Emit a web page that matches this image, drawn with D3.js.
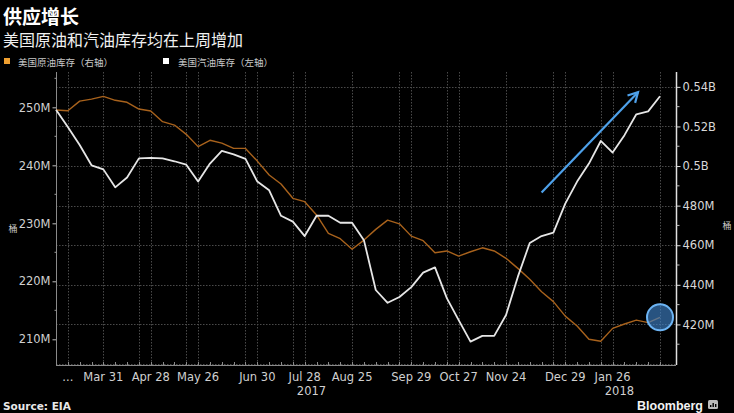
<!DOCTYPE html>
<html><head><meta charset="utf-8">
<script src="https://cdn.jsdelivr.net/npm/d3@7"></script>
<style>
html,body{margin:0;padding:0;background:#000;}
svg{display:block;}
</style></head>
<body>
<svg id="c" width="734" height="413"></svg>
<script>
// ---------- data ----------
const dates = [
 "2017-03-03","2017-03-10","2017-03-17","2017-03-24","2017-03-31",
 "2017-04-07","2017-04-14","2017-04-21","2017-04-28",
 "2017-05-05","2017-05-12","2017-05-19","2017-05-26",
 "2017-06-02","2017-06-09","2017-06-16","2017-06-23","2017-06-30",
 "2017-07-07","2017-07-14","2017-07-21","2017-07-28",
 "2017-08-04","2017-08-11","2017-08-18","2017-08-25",
 "2017-09-01","2017-09-08","2017-09-15","2017-09-22","2017-09-29",
 "2017-10-06","2017-10-13","2017-10-20","2017-10-27",
 "2017-11-03","2017-11-10","2017-11-17","2017-11-24",
 "2017-12-01","2017-12-08","2017-12-15","2017-12-22","2017-12-29",
 "2018-01-05","2018-01-12","2018-01-19","2018-01-26",
 "2018-02-02","2018-02-09","2018-02-16","2018-02-23"];
// US gasoline inventories, million barrels (left axis)
const gasoline = [249.6,246.6,243.5,240.0,239.3,236.2,237.9,241.2,241.3,241.2,
 240.7,240.1,237.2,240.3,242.5,241.9,241.1,237.2,235.7,231.3,
 230.3,227.8,231.3,231.3,230.1,230.1,227.1,218.5,216.3,217.3,
 219.0,221.5,222.4,217.1,213.3,209.6,210.6,210.6,214.2,220.8,
 226.6,227.8,228.4,233.4,237.2,240.3,244.2,242.2,245.2,248.8,
 249.3,251.9];
// US crude inventories, million barrels (right axis)
const crude = [528.3,527.9,532.8,533.8,535.2,533.2,532.2,528.8,527.8,522.4,
 520.7,516.0,509.8,513.0,511.6,508.9,508.9,502.5,495.5,490.9,
 483.7,482.0,475.3,466.0,463.3,458.0,462.6,468.0,472.7,470.8,
 464.6,462.3,456.2,457.1,454.5,456.7,458.7,457.1,453.4,448.3,
 442.8,436.5,431.5,424.2,419.2,412.5,411.5,418.0,420.2,422.2,
 420.9,423.6];
const xTickDates = ["2017-03-10","2017-03-31","2017-04-28","2017-05-26","2017-06-30","2017-07-28",
 "2017-08-25","2017-09-29","2017-10-27","2017-11-24","2017-12-29","2018-01-26"];
const xTickLabels = ["...","Mar 31","Apr 28","May 26","Jun 30","Jul 28",
 "Aug 25","Sep 29","Oct 27","Nov 24","Dec 29","Jan 26"];
const xGridDates = ["2017-03-10","2017-03-31","2017-04-21","2017-04-28","2017-05-19","2017-05-26",
 "2017-06-23","2017-06-30","2017-07-21","2017-07-28","2017-08-25","2017-09-22","2017-09-29",
 "2017-10-20","2017-10-27","2017-11-24","2017-12-22","2017-12-29","2018-01-19","2018-01-26","2018-02-23"];
const yearLabels = ["2017","2018"];
const yearLabelDates = ["2017-08-01","2018-01-30"];
const leftTicks = [210,220,230,240,250];
const leftMinor = [215,225,235,245,255];
const rightTicks = [420,440,460,480,500,520,540];
const rightMinor = [410,430,450,470,490,510,530];
const rightGrid = [400,420,440,460,480,500,520,540];
const arrowFrom = {date:"2017-12-15", value:235.3};
const arrowTo = {date:"2018-02-10", value:252.6};

const title = "供应增长";
const subtitle = "美国原油和汽油库存均在上周增加";
const legendLabels = ["美国原油库存（右轴）","美国汽油库存（左轴）"];

// ---------- setup ----------
const parse = d3.timeParse("%Y-%m-%d");
const svg = d3.select("#c");
const L = 56, R = 676, T = 72, B = 365;
const cjk = "'Noto Sans CJK SC','Noto Sans',sans-serif";
const lat = "'DejaVu Sans',sans-serif";

const x = d3.scaleTime().domain([parse(dates[0]), parse(dates[dates.length-1])]).range([56, 660]);
const yL = d3.scaleLinear().domain([205.57, 256.09]).range([B, T]);
const yR = d3.scaleLinear().domain([399.5, 547.5]).range([B, T]);

svg.append("rect").attr("width",734).attr("height",413).attr("fill","#000");

// title etc
svg.append("text").attr("x",3).attr("y",24).attr("fill","#fff")
  .attr("font-family",cjk).attr("font-weight","bold").attr("font-size",19).text(title);
svg.append("text").attr("x",3).attr("y",46).attr("fill","#f0f0f0")
  .attr("font-family",cjk).attr("font-size",16).text(subtitle);
// legend
const leg = svg.append("g");
leg.append("rect").attr("x",4).attr("y",58).attr("width",6).attr("height",6).attr("fill","#f0a030");
leg.append("text").attr("x",18).attr("y",65.5).attr("fill","#c8c8c8").attr("font-family",cjk)
  .attr("font-size",9.5).text(legendLabels[0]);
leg.append("rect").attr("x",163).attr("y",58).attr("width",6).attr("height",6).attr("fill","#fff");
leg.append("text").attr("x",178).attr("y",65.5).attr("fill","#c8c8c8").attr("font-family",cjk)
  .attr("font-size",9.5).text(legendLabels[1]);

// gridlines
const grid = svg.append("g").attr("stroke","#4a4a4a").attr("stroke-width",1).attr("stroke-dasharray","1.5,1.5");
grid.selectAll("line.h").data(rightGrid).enter().append("line")
  .attr("x1",L).attr("x2",R).attr("y1",d=>Math.round(yR(d))+0.5).attr("y2",d=>Math.round(yR(d))+0.5);
grid.selectAll("line.v").data(xGridDates).enter().append("line")
  .attr("x1",d=>Math.round(x(parse(d)))+0.5).attr("x2",d=>Math.round(x(parse(d)))+0.5)
  .attr("y1",T).attr("y2",B);

// x axis
const xa = svg.append("g");
xa.append("line").attr("x1",L).attr("x2",R).attr("y1",B+0.5).attr("y2",B+0.5).attr("stroke","#8a8a8a");
xa.selectAll("line.t").data(dates).enter().append("line")
  .attr("x1",d=>Math.round(x(parse(d)))+0.5).attr("x2",d=>Math.round(x(parse(d)))+0.5)
  .attr("y1",B-3).attr("y2",B).attr("stroke","#8a8a8a");
xa.selectAll("text.l").data(xTickDates).enter().append("text")
  .attr("x",d=>x(parse(d))).attr("y",381).attr("text-anchor","middle")
  .attr("fill","#d0d0d0").attr("font-family",lat).attr("font-size",11.5)
  .text((d,i)=>xTickLabels[i]);
xa.selectAll("text.y").data(yearLabelDates).enter().append("text")
  .attr("x",d=>x(parse(d))).attr("y",395).attr("text-anchor","middle")
  .attr("fill","#d0d0d0").attr("font-family",lat).attr("font-size",11.5)
  .text((d,i)=>yearLabels[i]);

// left axis
const la = svg.append("g").attr("transform",`translate(${L+0.5},0)`)
  .call(d3.axisLeft(yL).tickValues(leftTicks).tickFormat(d=>d+"M").tickSize(4).tickPadding(2));
la.select(".domain").remove();
la.append("line").attr("y1",T).attr("y2",B).attr("stroke","#8a8a8a");
la.selectAll(".tick line").attr("stroke","#bbb");
la.selectAll(".tick text").attr("fill","#d0d0d0").attr("font-family",lat).attr("font-size",11.5);
la.selectAll("line.m").data(leftMinor).enter().append("line")
  .attr("x1",-2).attr("x2",0).attr("y1",d=>yL(d)).attr("y2",d=>yL(d)).attr("stroke","#999");

// right axis
const ra = svg.append("g").attr("transform",`translate(${R+0.5},0)`)
  .call(d3.axisRight(yR).tickValues(rightTicks)
    .tickFormat(d=> d>=500 ? (d/1000)+"B" : d+"M").tickSize(4).tickPadding(2));
ra.select(".domain").remove();
ra.append("line").attr("y1",T).attr("y2",B).attr("stroke","#e0e0e0").attr("stroke-width",1.5);
ra.selectAll(".tick line").attr("stroke","#ddd");
ra.selectAll(".tick text").attr("fill","#d8d8d8").attr("font-family",lat).attr("font-size",11.5);
ra.selectAll("line.m").data(rightMinor).enter().append("line")
  .attr("x1",0).attr("x2",3).attr("y1",d=>yR(d)).attr("y2",d=>yR(d)).attr("stroke","#bbb");

// unit labels
svg.append("text").attr("x",13).attr("y",232).attr("text-anchor","middle").attr("fill","#c8c8c8")
  .attr("font-family",cjk).attr("font-size",9).text("桶");
svg.append("text").attr("x",727).attr("y",229).attr("text-anchor","middle").attr("fill","#c8c8c8")
  .attr("font-family",cjk).attr("font-size",9).text("桶");

// lines
const crudeLine = d3.line().x((d,i)=>x(parse(dates[i]))).y(d=>yR(d));
const gasLine = d3.line().x((d,i)=>x(parse(dates[i]))).y(d=>yL(d));
svg.append("path").datum(crude).attr("d",crudeLine).attr("fill","none")
  .attr("stroke","#a8621c").attr("stroke-width",1.4).attr("stroke-linejoin","round");
svg.append("path").datum(gasoline).attr("d",gasLine).attr("fill","none")
  .attr("stroke","#e6e6e6").attr("stroke-width",1.8).attr("stroke-linejoin","round");

// annotations
const lastI = crude.length-1;
svg.append("circle").attr("cx",x(parse(dates[lastI]))).attr("cy",yR(crude[lastI])).attr("r",13)
  .attr("fill","#3d7fc4").attr("fill-opacity",0.65).attr("stroke","#6cb4f4").attr("stroke-width",2);
const ax1 = x(parse(arrowFrom.date)), ay1 = yL(arrowFrom.value);
const ax2 = x(parse(arrowTo.date)), ay2 = yL(arrowTo.value);
const ang = Math.atan2(ay2-ay1, ax2-ax1);
const hl = 11, ha = 0.5;
svg.append("line").attr("x1",ax1).attr("y1",ay1).attr("x2",ax2).attr("y2",ay2)
  .attr("stroke","#4ea1ea").attr("stroke-width",2.2);
svg.append("path")
  .attr("d",`M${ax2-hl*Math.cos(ang-ha)},${ay2-hl*Math.sin(ang-ha)}L${ax2},${ay2}L${ax2-hl*Math.cos(ang+ha)},${ay2-hl*Math.sin(ang+ha)}`)
  .attr("fill","none").attr("stroke","#4ea1ea").attr("stroke-width",2.2);

// footer
svg.append("text").attr("x",3).attr("y",410).attr("fill","#e8e8e8").attr("font-family",lat)
  .attr("font-weight","bold").attr("font-size",10.5).text("Source: EIA");
svg.append("text").attr("x",703).attr("y",410).attr("text-anchor","end").attr("fill","#f2f2f2")
  .attr("font-family","'Liberation Sans',Arial,sans-serif").attr("font-weight","bold").attr("font-size",12.5).text("Bloomberg");
const ic = svg.append("g").attr("transform","translate(708,400)");
ic.append("rect").attr("width",10).attr("height",9).attr("rx",1.5).attr("fill","#bbb");
[[2,5,2],[4.5,3,4],[7,4,3]].forEach(b=>ic.append("rect").attr("x",b[0]).attr("y",b[1]).attr("width",1.4).attr("height",b[2]).attr("fill","#000"));
</script>
</body></html>
